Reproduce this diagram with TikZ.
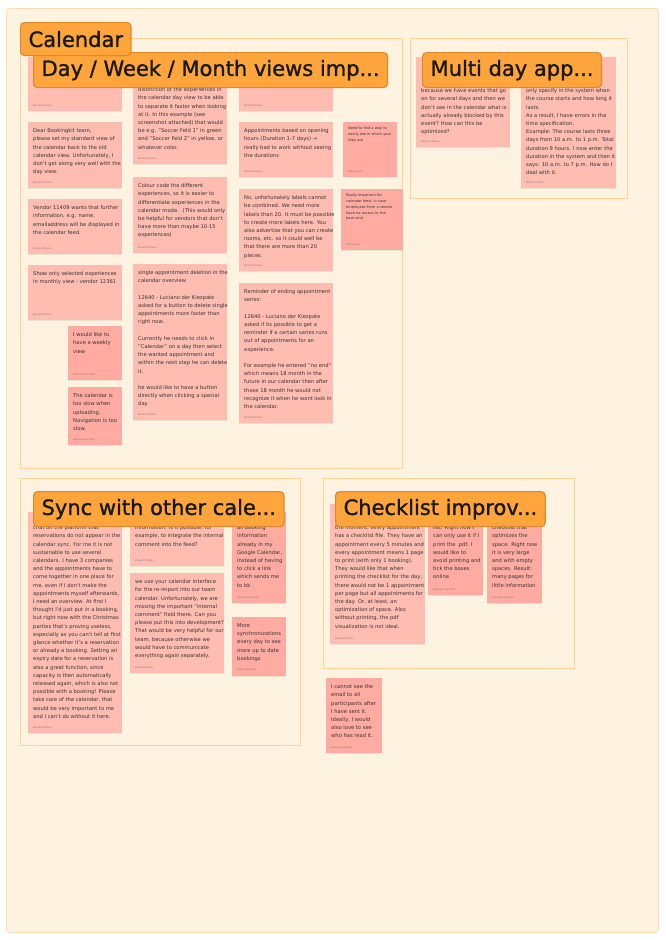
\documentclass[tikz,border=0pt]{standalone}
\usepackage{fontspec}
\setmainfont{DejaVu Sans}
\newfontfamily\tagfont{DejaVu Sans}[FakeBold=1.3]
\usetikzlibrary{calc}
\usetikzlibrary{positioning}
\usetikzlibrary{shadows}
\definecolor{boardbg}{HTML}{FEF2E1}
\definecolor{boardline}{HTML}{FFDDB0}
\definecolor{frameline}{HTML}{FFD494}
\definecolor{stickyA}{HTML}{FFBDB2}
\definecolor{stickyB}{HTML}{FFABA2}
\definecolor{tagfill}{HTML}{FFA53C}
\definecolor{tagline}{HTML}{DC8B2C}
\definecolor{inkgray}{HTML}{363333}
\definecolor{authgray}{HTML}{8E706B}
\tikzstyle{sticky} = [anchor=north west, inner sep=0pt, outer sep=0pt, fill=stickyA, drop shadow={shadow xshift=0pt, shadow yshift=-1pt, opacity=0.15}]
\tikzstyle{stickydark} = [sticky, fill=stickyB]
\tikzstyle{notetext} = [anchor=north west, align=left, inner xsep=5pt, inner ysep=6.5pt, text=inkgray, font=\fontsize{5.2}{8.2}\selectfont]
\tikzstyle{tinytext} = [notetext, inner ysep=5pt, font=\fontsize{3.6}{5.7}\selectfont]
\tikzstyle{author} = [anchor=south west, inner xsep=5pt, inner ysep=4.5pt, text=authgray, font=\fontsize{2.4}{3}\selectfont]
\tikzstyle{groupframe} = [anchor=north west, draw=frameline, line width=0.8pt, inner sep=0pt, outer sep=0pt]
\tikzstyle{grouptag} = [anchor=north west, draw=tagline, fill=tagfill, line width=1.2pt, rounded corners=4pt, inner xsep=8pt, minimum height=35pt, text=black!90, font=\tagfont\fontsize{21}{25}\selectfont]

\begin{document}
\begin{tikzpicture}[x=1pt, y=-1pt]
    \useasboundingbox (0,0) rectangle (666,940);
    \node[anchor=north west, fill=boardbg, draw=boardline, line width=0.8pt, rounded corners=3pt, inner sep=0pt, minimum width=652pt, minimum height=924pt] (board) at (6,8) {};

    \node[groupframe, minimum width=382pt, minimum height=430pt] (cal_frame) at (20,38) {};
    \node[groupframe, minimum width=217pt, minimum height=160pt] (multi_frame) at (410,38) {};
    \node[groupframe, minimum width=280pt, minimum height=267pt] (sync_frame) at (20,478) {};
    \node[groupframe, minimum width=251pt, minimum height=190pt] (check_frame) at (323,478) {};

    % calendar
    \node[sticky, minimum width=94pt, minimum height=54pt] (cal_top) at (28,57) {};
    \node[author] (cal_top_a) at (cal_top.south west) {Eduard Tiltasov};

    \node[sticky, minimum width=94pt, minimum height=66pt] (cal_dear) at (28,122) {};
    \node[notetext] (cal_dear_t) at (cal_dear.north west) {Dear Bookingkit team,\\please set my standard view of\\the calendar back to the old\\calendar view. Unfortunately, I\\don't get along very well with the\\day view.};
    \node[author] (cal_dear_a) at (cal_dear.south west) {Eduard Tiltasov};

    \node[sticky, minimum width=94pt, minimum height=55pt] (cal_vendor) at (28,199) {};
    \node[notetext] (cal_vendor_t) at (cal_vendor.north west) {Vendor 11409 wants that further\\information, e.g. name,\\emailaddress will be displayed in\\the calendar feed.};
    \node[author] (cal_vendor_a) at (cal_vendor.south west) {Eduard Tiltasov};

    \node[sticky, minimum width=94pt, minimum height=55pt] (cal_monthly) at (28,265) {};
    \node[notetext] (cal_monthly_t) at (cal_monthly.north west) {Show only selected experiences\\in monthly view - vendor 12361};
    \node[author] (cal_monthly_a) at (cal_monthly.south west) {Eduard Tiltasov};

    \node[stickydark, minimum width=54pt, minimum height=54pt] (cal_weekly) at (68,326) {};
    \node[notetext] (cal_weekly_t) at (cal_weekly.north west) {I would like to\\have a weekly\\view};
    \node[author] (cal_weekly_a) at (cal_weekly.south west) {Giovanni Seccheli};

    \node[stickydark, minimum width=54pt, minimum height=58pt] (cal_slow) at (68,387) {};
    \node[notetext] (cal_slow_t) at (cal_slow.north west) {The calendar is\\too slow when\\uploading.\\Navigation is too\\slow.};
    \node[author] (cal_slow_a) at (cal_slow.south west) {Giovanni Seccheli};

    \node[sticky, minimum width=94pt, minimum height=107pt] (cal_distinct) at (133,57) {};
    \node[notetext] (cal_distinct_t) at ($(cal_distinct.north west)+(0,24)$) {distinction of the experiences in\\the calendar day view to be able\\to separate it faster when looking\\at it. In this example (see\\screenshot attached) that would\\be e.g. "Soccer Feld 1" in green\\and "Soccer Feld 2" in yellow, or\\whatever color.};
    \node[author] (cal_distinct_a) at (cal_distinct.south west) {Eduard Tiltasov};

    \node[sticky, minimum width=94pt, minimum height=76pt] (cal_colour) at (133,177) {};
    \node[notetext] (cal_colour_t) at (cal_colour.north west) {Colour code the different\\experiences, so it is easier to\\differentiate experiences in the\\calendar mode. .(This would only\\be helpful for vendors that don't\\have more than maybe 10-15\\experiences)};
    \node[author] (cal_colour_a) at (cal_colour.south west) {Eduard Tiltasov};

    \node[sticky, minimum width=94pt, minimum height=156pt] (cal_delete) at (133,264) {};
    \node[notetext] (cal_delete_t) at (cal_delete.north west) {single appointment deletion in the\\calendar overview\\[8.2pt]12640 - Luciano der Kiezpate\\asked for a button to delete single\\appointments more faster than\\right now.\\[8.2pt]Currently he needs to click in\\"Calendar" on a day then select\\the wanted appointment and\\within the next step he can delete\\it.\\[8.2pt]he would like to have a button\\directly when clicking a special\\day};
    \node[author] (cal_delete_a) at (cal_delete.south west) {Eduard Tiltasov};

    \node[sticky, minimum width=94pt, minimum height=54pt] (cal_side) at (239,57) {};
    \node[author] (cal_side_a) at (cal_side.south west) {Eduard Tiltasov};

    \node[sticky, minimum width=94pt, minimum height=55pt] (cal_hours) at (239,122) {};
    \node[notetext] (cal_hours_t) at (cal_hours.north west) {Appointments based on opening\\hours (Duration 1-7 days) →\\really bad to work without seeing\\the durations};
    \node[author] (cal_hours_a) at (cal_hours.south west) {Eduard Tiltasov};

    \node[sticky, minimum width=94pt, minimum height=82pt] (cal_labels) at (239,189) {};
    \node[notetext] (cal_labels_t) at (cal_labels.north west) {No, unfortunately labels cannot\\be combined. We need more\\labels than 20. It must be possible\\to create more labels here. You\\also advertise that you can create\\rooms, etc. so it could well be\\that there are more than 20\\pieces.};
    \node[author] (cal_labels_a) at (cal_labels.south west) {Eduard Tiltasov};

    \node[sticky, minimum width=94pt, minimum height=140pt] (cal_reminder) at (239,283) {};
    \node[notetext] (cal_reminder_t) at (cal_reminder.north west) {Reminder of ending appointment\\series:\\[8.2pt]12640 - Luciano der Kiezpate\\asked if its possible to get a\\reminder if a certain series runs\\out of appointments for an\\experience.\\[8.2pt]For example he entered "no end"\\which means 18 month in the\\future in our calendar then after\\those 18 month he would not\\recognize it when he wont look in\\the calendar.};
    \node[author] (cal_reminder_a) at (cal_reminder.south west) {Eduard Tiltasov};

    \node[stickydark, minimum width=54pt, minimum height=55pt] (cal_year) at (343,122) {};
    \node[tinytext] (cal_year_t) at (cal_year.north west) {Need to find a way to\\easily see in which year\\they are};
    \node[author] (cal_year_a) at (cal_year.south west) {Alla Locante};

    \node[stickydark, minimum width=62pt, minimum height=61pt] (cal_feed) at (341,189) {};
    \node[tinytext] (cal_feed_t) at (cal_feed.north west) {Really important for\\calendar feed: in case\\employees from a vendor\\have no access to the\\back-end};
    \node[author] (cal_feed_a) at (cal_feed.south west) {Alla Locante};

    % multi day
    \node[sticky, minimum width=94pt, minimum height=90pt] (multi_events) at (416,57) {};
    \node[notetext] (multi_events_t) at ($(multi_events.north west)+(0,25)$) {because we have events that go\\on for several days and then we\\don't see in the calendar what is\\actually already blocked by this\\event? How can this be\\optimized?};
    \node[author] (multi_events_a) at (multi_events.south west) {Eduard Tiltasov};

    \node[sticky, minimum width=95pt, minimum height=131pt] (multi_course) at (521,57) {};
    \node[notetext] (multi_course_t) at ($(multi_course.north west)+(0,25)$) {only specify in the system when\\the course starts and how long it\\lasts.\\As a result, I have errors in the\\time specification.\\Example: The course lasts three\\days from 10 a.m. to 1 p.m. Total\\duration 9 hours. I now enter the\\duration in the system and then it\\says: 10 a.m. to 7 p.m. How do I\\deal with it.};
    \node[author] (multi_course_a) at (multi_course.south west) {Eduard Tiltasov};

    % sync
    \node[sticky, minimum width=94pt, minimum height=221pt] (sync_chat) at (28,512) {};
    \node[notetext] (sync_chat_t) at ($(sync_chat.north west)+(0,7)$) {chat on the platform that\\reservations do not appear in the\\calendar sync. For me it is not\\sustainable to use several\\calendars. I have 3 companies\\and the appointments have to\\come together in one place for\\me, even if I don't make the\\appointments myself afterwards,\\I need an overview. At first I\\thought I'd just put in a booking,\\but right now with the Christmas\\parties that's proving useless,\\especially as you can't tell at first\\glance whether it's a reservation\\or already a booking. Setting an\\expiry date for a reservation is\\also a great function, since\\capacity is then automatically\\released again, which is also not\\possible with a booking! Please\\take care of the calendar, that\\would be very important to me\\and I can't do without it here.};
    \node[author] (sync_chat_a) at (sync_chat.south west) {Eduard Tiltasov};

    \node[sticky, minimum width=94pt, minimum height=54pt] (sync_comment) at (130,512) {};
    \node[notetext] (sync_comment_t) at ($(sync_comment.north west)+(0,7)$) {information. Is it possible, for\\example, to integrate the internal\\comment into the feed?};
    \node[author] (sync_comment_a) at (sync_comment.south west) {Eduard Tiltasov};

    \node[sticky, minimum width=94pt, minimum height=100pt] (sync_reimport) at (130,573) {};
    \node[notetext] (sync_reimport_t) at (sync_reimport.north west) {we use your calendar interface\\for the re-import into our team\\calendar. Unfortunately, we are\\missing the important "internal\\comment" field there. Can you\\please put this into development?\\That would be very helpful for our\\team, because otherwise we\\would have to communicate\\everything again separately.};
    \node[author] (sync_reimport_a) at (sync_reimport.south west) {Eduard Tiltasov};

    \node[stickydark, minimum width=54pt, minimum height=91pt] (sync_google) at (232,512) {};
    \node[notetext] (sync_google_t) at ($(sync_google.north west)+(0,7)$) {all booking\\information\\already in my\\Google Calendar,\\instead of having\\to click a link\\which sends me\\to bk};
    \node[author] (sync_google_a) at (sync_google.south west) {Giovanni Seccheli};

    \node[stickydark, minimum width=54pt, minimum height=59pt] (sync_more) at (232,617) {};
    \node[notetext] (sync_more_t) at (sync_more.north west) {More\\synchronizations\\every day to see\\more up to date\\bookings};
    \node[author] (sync_more_a) at (sync_more.south west) {Marvin Springer};

    % checklist
    \node[sticky, minimum width=95pt, minimum height=140pt] (check_file) at (330,504) {};
    \node[notetext] (check_file_t) at ($(check_file.north west)+(0,15)$) {the moment, every appointment\\has a checklist file. They have an\\appointment every 5 minutes and\\every appointment means 1 page\\to print (with only 1 booking).\\They would like that when\\printing the checklist for the day,\\there would not be 1 appointment\\per page but all appointments for\\the day. Or, at least, an\\optimization of space. Also\\without printing, the pdf\\visualization is not ideal.};
    \node[author] (check_file_a) at (check_file.south west) {Eduard Tiltasov};

    \node[stickydark, minimum width=55pt, minimum height=91pt] (check_online) at (428,504) {};
    \node[notetext] (check_online_t) at ($(check_online.north west)+(0,15)$) {list. Right now I\\can only use it if I\\print the .pdf. I\\would like to\\avoid printing and\\tick the boxes\\online};
    \node[author] (check_online_a) at (check_online.south west) {Giovanni Seccheli};

    \node[stickydark, minimum width=55pt, minimum height=99pt] (check_space) at (487,504) {};
    \node[notetext] (check_space_t) at ($(check_space.north west)+(0,15)$) {checklist that\\optimizes the\\space. Right now\\it is very large\\and with empty\\spaces. Result:\\many pages for\\little information.};
    \node[author] (check_space_a) at (check_space.south west) {Giovanni Seccheli};

    \node[stickydark, minimum width=56pt, minimum height=75pt] (mail_note) at (326,678) {};
    \node[notetext] (mail_note_t) at (mail_note.north west) {I cannot see the\\email to all\\participants after\\I have sent it.\\Ideally, I would\\also love to see\\who has read it.};
    \node[author] (mail_note_a) at (mail_note.south west) {Giovanni Seccheli};

    % group titles
    \node[grouptag] (views_tag) at (33,52) {Day / Week / Month views imp...};
    \node[grouptag, minimum height=33pt] (cal_tag) at (20,22) {Calendar};
    \node[grouptag] (multi_tag) at (422,52) {Multi day app...};
    \node[grouptag] (sync_tag) at (33,491) {Sync with other cale...};
    \node[grouptag] (check_tag) at (335,491) {Checklist improv...};
\end{tikzpicture}
\end{document}
